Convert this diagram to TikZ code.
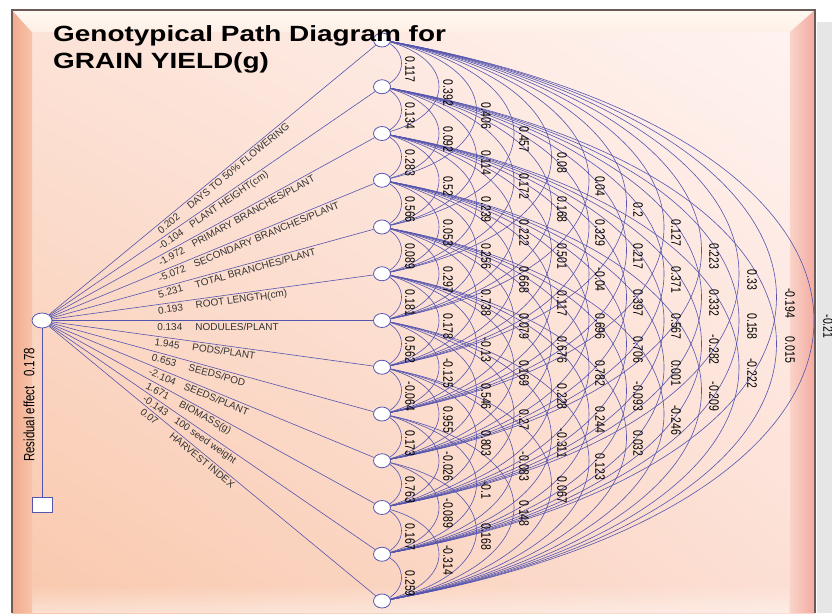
\documentclass[tikz,border=0pt]{standalone}
\usepackage{fontspec}
\setmainfont{Liberation Sans}
\usepackage{graphicx}
\usetikzlibrary{shapes.geometric,calc,shadings,fadings}
\definecolor{lc}{RGB}{85,85,175}
\definecolor{bgUL}{HTML}{FCE3D8}
\definecolor{bgUR}{HTML}{FFF4F2}
\definecolor{bgLL}{HTML}{F9C8AC}
\definecolor{bgLR}{HTML}{FCDFD4}
\definecolor{bevLa}{HTML}{F2AA8E}
\definecolor{bevLb}{HTML}{F8C4A8}
\definecolor{bevTa}{HTML}{FFF9F2}
\definecolor{bevTb}{HTML}{FEF0E6}
\definecolor{bevRa}{HTML}{FAD3C9}
\definecolor{bevRb}{HTML}{F2AAA0}
\definecolor{frameline}{HTML}{6B5A58}
\definecolor{shadowgray}{HTML}{E6E6E6}
\begin{document}
\begin{tikzpicture}[x=1pt,y=-1pt,
  arcline/.style={lc, line width=0.6pt},
  fanline/.style={lc, line width=0.6pt},
  rnode/.style={ellipse, draw=lc, fill=white, line width=0.8pt, minimum width=17pt, minimum height=14pt, inner sep=0pt},
  lnode/.style={ellipse, draw=lc, fill=white, line width=0.8pt, minimum width=20pt, minimum height=15pt, inner sep=0pt},
  resbox/.style={rectangle, draw=lc, fill=white, line width=0.8pt, minimum width=20pt, minimum height=15pt, inner sep=0pt},
  numlab/.style={rotate=-90, font=\fontsize{10.5}{12}\selectfont, text=black, inner sep=0pt},
  fanlab/.style={sloped, anchor=north west, font=\fontsize{10}{12}\selectfont, text=black!80, inner sep=2pt},
  titlefont/.style={anchor=base west, inner sep=0pt, font=\bfseries\fontsize{22}{26}\selectfont}
]
\useasboundingbox (0,0) rectangle (832,613);
% background and frame
\fill[white] (0,0) rectangle (832,613);
\fill[shadowgray] (817,22) rectangle (832,613);
\shade[upper left=bgUL, upper right=bgUR, lower left=bgLL, lower right=bgLR] (12,10) rectangle (815,613);
\fill[white, opacity=0.45, path fading=north] (32,585) rectangle (790,613);
\shade[left color=bevLa, right color=bevLb] (12,10) -- (32,32) -- (32,613) -- (12,613) -- cycle;
\shade[top color=bevTa, bottom color=bevTb] (12,10) -- (815,10) -- (790,32) -- (32,32) -- cycle;
\shade[left color=bevRa, right color=bevRb] (815,10) -- (815,613) -- (790,613) -- (790,32) -- cycle;
\draw[line width=1.6pt, frameline] (12,613) -- (12,10) -- (815,10) -- (815,613);

% node positions
\foreach \k in {0,...,12} \coordinate (P\k) at (382,{40+46.75*\k});

\def\corrdata{1/{0.117,0.134,0.283,0.566,0.089,0.181,0.562,-0.064,0.173,0.763,0.167,0.259},
2/{0.392,0.092,0.52,0.053,0.297,0.178,-0.125,0.955,-0.026,-0.089,-0.314},
3/{0.406,0.114,0.239,0.256,0.738,-0.13,0.546,0.803,-0.1,0.168},
4/{0.457,0.172,0.222,0.668,0.079,0.169,0.27,-0.083,0.148},
5/{0.08,0.168,0.501,0.117,0.676,0.228,-0.311,0.067},
6/{0.04,0.329,-0.04,0.696,0.782,0.244,0.123},
7/{0.2,0.217,0.397,0.706,-0.093,0.032},
8/{0.127,0.371,0.567,0.001,-0.246},
9/{0.223,0.332,-0.282,-0.209},
10/{0.33,0.158,-0.222},
11/{-0.194,0.015},
12/{-0.21}}

% correlation arcs
\foreach \d/\vals in \corrdata {
  \foreach \v [count=\c] in \vals {
    \pgfmathtruncatemacro\i{\c-1}
    \pgfmathtruncatemacro\j{\c-1+\d}
    \pgfmathsetmacro\a{50*\d-24}
    \pgfmathsetmacro\b{8.4*\d}
    \draw[arcline] (P\i) .. controls +(\a,\b) and +(\a,-\b) .. (P\j);
  }
}
% correlation labels
\foreach \d/\vals in \corrdata {
  \foreach \v [count=\c] in \vals {
    \pgfmathtruncatemacro\i{\c-1}
    \node[numlab] (c\d-\i) at ({372+38*\d},{40+46.75*\i+23.375*\d+6}) {\scalebox{1}[1.3]{\v}};
  }
}

% nodes
\foreach \k in {0,...,12} \node[rnode] (R\k) at (P\k) {};
\node[lnode] (L) at (42,320.5) {};
\node[resbox] (S) at (42,505) {};

% direct paths
\foreach \k/\num/\name in {0/0.202/{DAYS TO 50\% FLOWERING},
  1/-0.104/{PLANT HEIGHT(cm)},
  2/-1.972/{PRIMARY BRANCHES/PLANT},
  3/-5.072/{SECONDARY BRANCHES/PLANT},
  4/5.231/{TOTAL BRANCHES/PLANT},
  5/0.193/{ROOT LENGTH(cm)},
  6/0.134/{NODULES/PLANT},
  7/1.945/{PODS/PLANT},
  8/0.653/{SEEDS/POD},
  9/-2.104/{SEEDS/PLANT},
  10/1.671/{BIOMASS(g)},
  11/-0.143/{100 seed weight},
  12/0.07/{HARVEST INDEX}} {
  \pgfmathsetmacro\p{\k<7 ? 0.32 : 0.32-0.005*(\k-6)}
  \draw[fanline] (L) -- (R\k) node[fanlab, pos=\p] {\makebox[38pt][l]{\num}\name};
}
\draw[fanline] (L) -- (S);
\node[rotate=90, font=\fontsize{11.5}{13}\selectfont, inner sep=0pt] (RE) at (29,405) {\scalebox{1}[1.3]{Residual effect\hspace{0.8em}0.178}};

% title
\node[titlefont] (T1) at (53,41) {\scalebox{1.27}[1]{Genotypical Path Diagram for}};
\node[titlefont] (T2) at (53,68) {\scalebox{1.27}[1]{GRAIN YIELD(g)}};
\end{tikzpicture}
\end{document}
